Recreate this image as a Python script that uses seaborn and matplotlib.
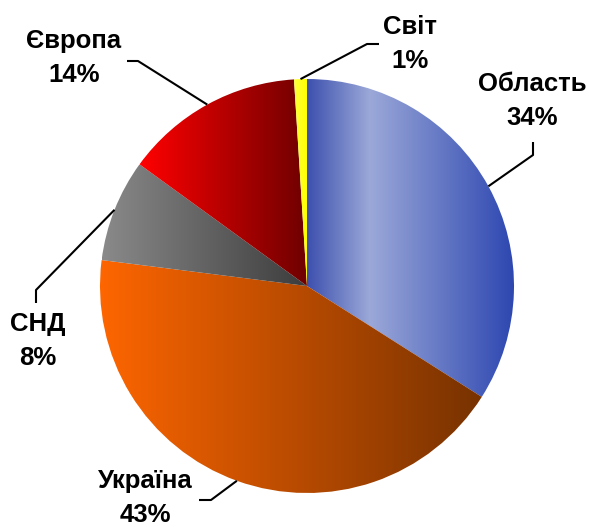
import numpy as np
import matplotlib
matplotlib.use("Agg")
import matplotlib.pyplot as plt
from matplotlib.colors import LinearSegmentedColormap
import seaborn as sns

# data
regions = ["Область", "Україна", "СНД", "Європа", "Світ"]
shares = [34, 43, 8, 14, 1]

# horizontal gradient fills per slice (position, colour)
fills = [
    [(0.0, "#3d50ae"), (0.3, "#9ba8d8"), (1.0, "#2c46b0")],
    [(0.0, "#ff6600"), (1.0, "#773200")],
    [(0.0, "#8a8a8a"), (1.0, "#3c3c3c")],
    [(0.0, "#ff0000"), (1.0, "#6e0000")],
    [(0.0, "#ffff40"), (1.0, "#ffff00")],
]

# figure is laid out in pixels, y measured from the top
W, H = 589, 527
center = (307, 286)
radius = 207
# label centre, elbow point, end of leader (pixels, y down)
label_pos = [(532, 101), (145, 498), (38, 341), (74, 58), (410, 44)]
elbows = [(533, 155), (211, 500), (36, 290), (138, 61), (367, 44)]
ends = [(533, 142), (199, 500), (36, 303), (127, 61), (379, 44)]

sns.set_theme(style="white")
plt.rcParams["font.family"] = ["Liberation Sans", "DejaVu Sans"]

fig = plt.figure(figsize=(W / 100, H / 100), dpi=100)
ax = fig.add_axes([0, 0, 1, 1])

wedges, _ = ax.pie(shares, startangle=90, counterclock=False,
                   center=(center[0], H - center[1]), radius=radius,
                   wedgeprops=dict(linewidth=0))

grad = np.linspace(0, 1, 256).reshape(1, -1)
for w, stops in zip(wedges, fills):
    verts = w.get_path().vertices
    x0, x1 = verts[:, 0].min(), verts[:, 0].max()
    y0, y1 = verts[:, 1].min(), verts[:, 1].max()
    cmap = LinearSegmentedColormap.from_list("g", stops)
    im = ax.imshow(grad, cmap=cmap, extent=[x0, x1, y0, y1],
                   aspect="auto", interpolation="bilinear", zorder=2)
    im.set_clip_path(w)
    w.set_facecolor("none")

# labels with leader lines
for w, name, val, lp, el, en in zip(wedges, regions, shares,
                                    label_pos, elbows, ends):
    mid = np.deg2rad((w.theta1 + w.theta2) / 2)
    sx = center[0] + radius * np.cos(mid)
    sy = (H - center[1]) + radius * np.sin(mid)
    ax.plot([sx, el[0], en[0]], [sy, H - el[1], H - en[1]],
            color="black", lw=1.5, zorder=3, solid_capstyle="butt")
    ax.text(lp[0], H - lp[1], f"{name}\n{val}%", ha="center", va="center",
            fontsize=18.5, fontweight="bold", linespacing=1.5, color="black")

ax.set_xlim(0, W)
ax.set_ylim(0, H)
ax.set_aspect("equal")
ax.axis("off")

fig.savefig("out.png", dpi=100, facecolor="white")
